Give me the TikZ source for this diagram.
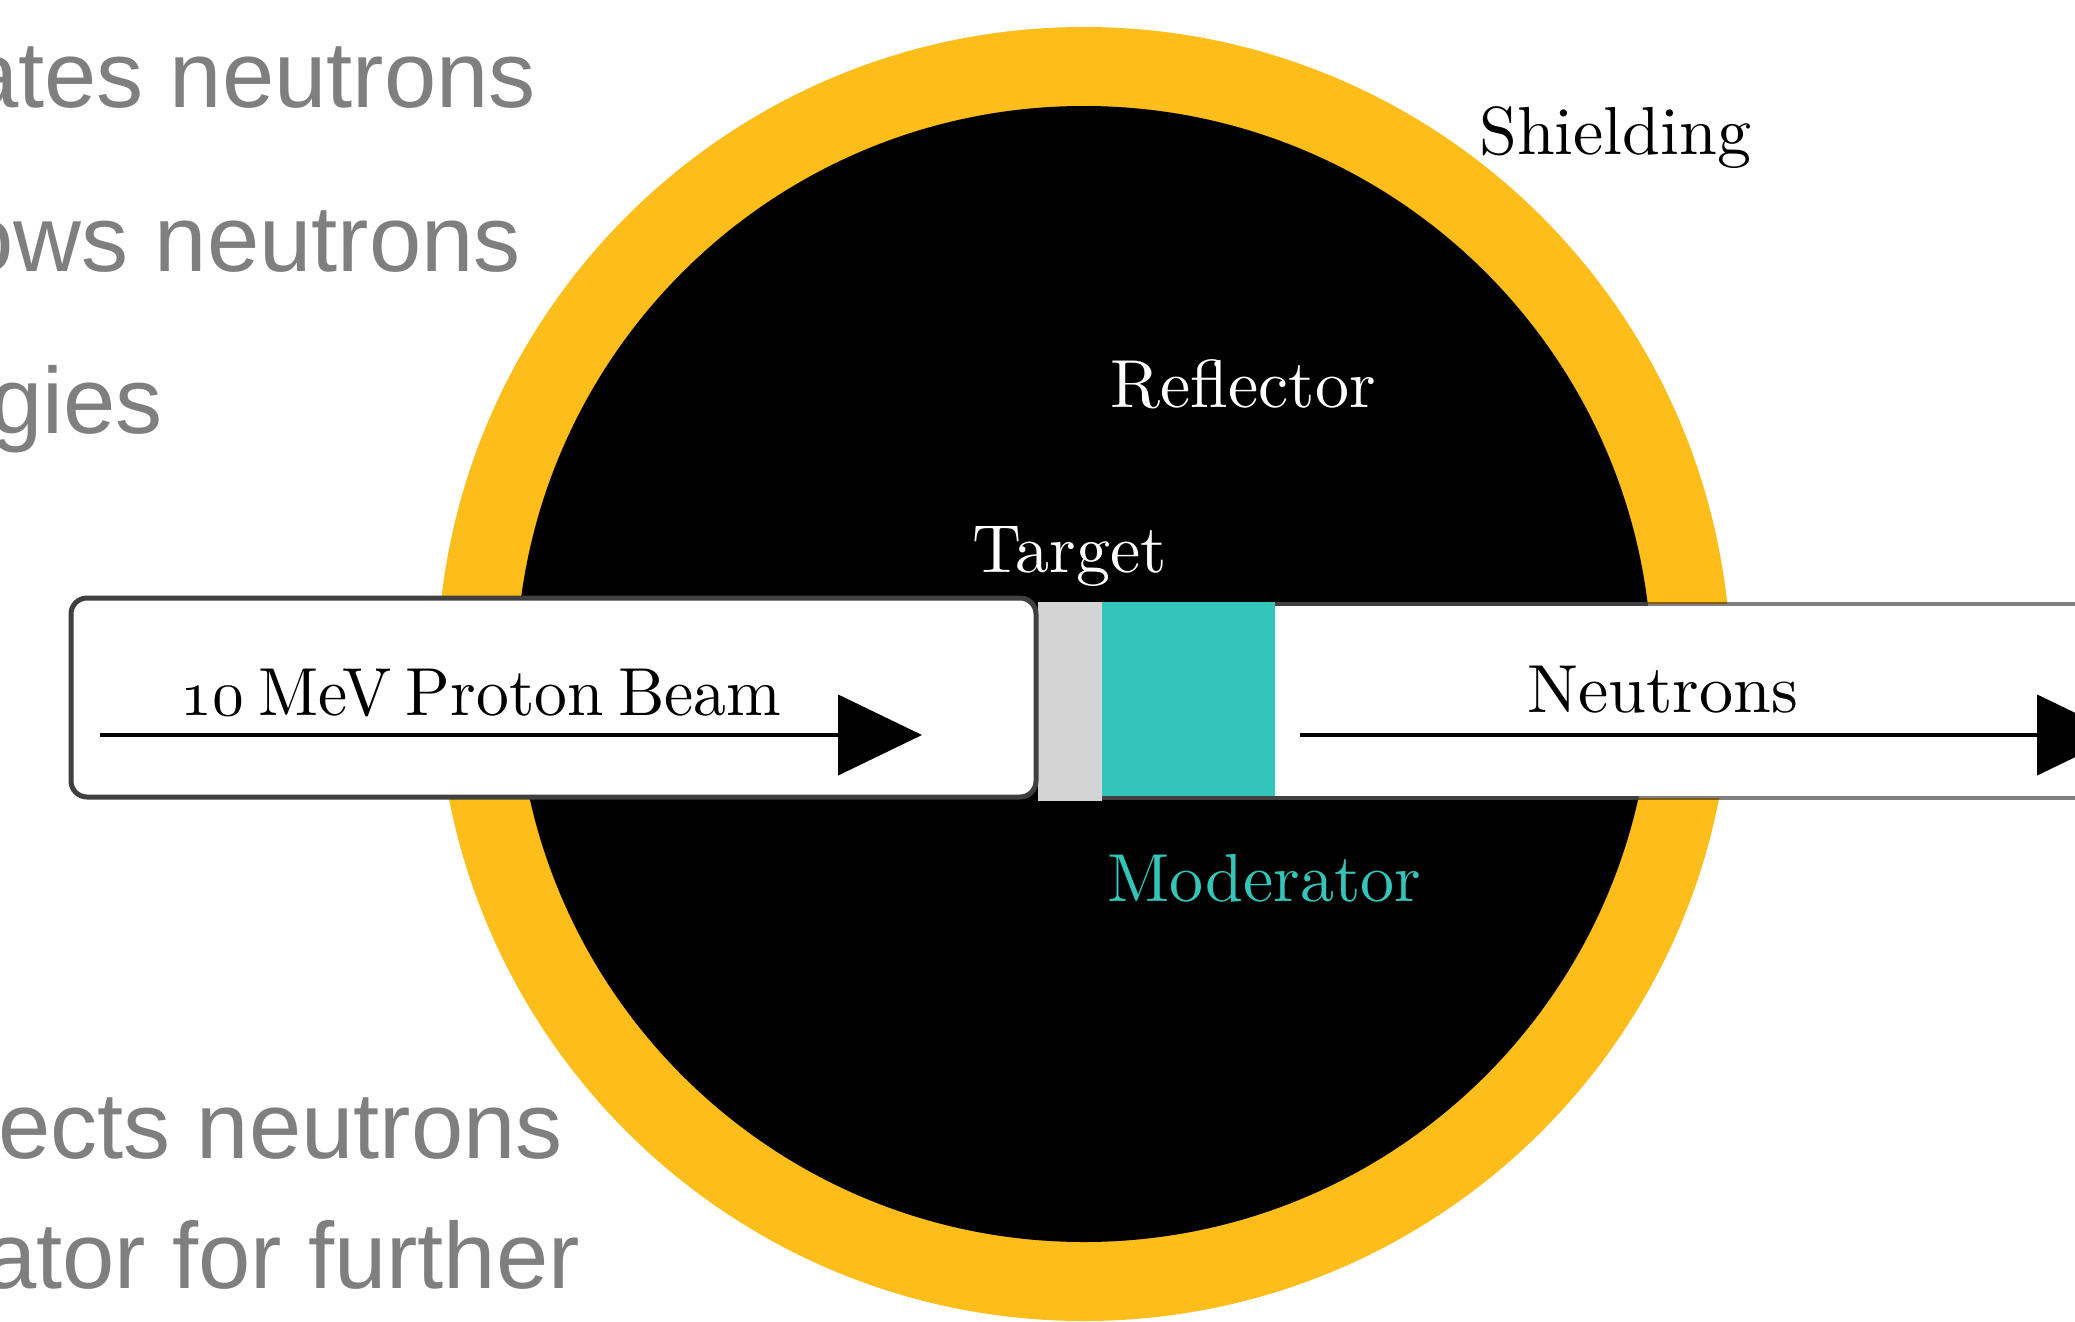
\documentclass[tikz,border=0pt]{standalone}
\usepackage{fontspec}
\usepackage{graphicx}
\usetikzlibrary{arrows.meta}
\newfontfamily\slidefont{Liberation Sans}
\newfontfamily\labelfont{lmroman10-regular}[Extension=.otf]
\definecolor{shieldyellow}{HTML}{FDBD1A}
\definecolor{modteal}{HTML}{33C5B9}
\definecolor{targetgray}{HTML}{D4D4D4}
\definecolor{boxedge}{HTML}{404040}
\definecolor{slidegray}{HTML}{7F7F7F}
% old-style figures taken from the math italic font, scaled up to label size
\newcommand{\osnum}[1]{\scalebox{6.6}{\fontsize{10}{12}\usefont{OML}{cmm}{m}{it}#1}}

\tikzset{
  labeltext/.style={inner sep=0pt, anchor=base west, font=\labelfont\fontsize{68}{80}\selectfont},
  slidetext/.style={inner sep=0pt, anchor=base east, text=slidegray,
    font=\slidefont\fontsize{94}{110}\selectfont},
  flowarrow/.style={line width=4.5pt, draw=black, -{Triangle[length=84pt,width=80pt]}},
  blockbox/.style={inner sep=0pt, outer sep=0pt, draw=none},
}

\begin{document}
\begin{tikzpicture}[x=1pt,y=-1pt]
\useasboundingbox (0,0) rectangle (2075,1322);
\clip (0,0) rectangle (2075,1322);
\fill[white] (0,0) rectangle (2075,1322);

% bullet text running in from the left
\node[slidetext] (s1) at (536,107) {ates neutrons};
\node[slidetext] (s2) at (521,271) {ows neutrons};
\node[slidetext] (s3) at (163,433) {gies};
\node[slidetext] (s4) at (563,1158) {ects neutrons};
\node[slidetext] (s5) at (580,1288) {ator for further};

% shielding ring and reflector core
\fill[shieldyellow] (1084,674) circle [radius=647pt];
\fill[black] (1084,674) circle [radius=568pt];

% neutron channel
\node[blockbox, fill=white, minimum width=1098pt, minimum height=194pt] (channel) at (1651,701) {};
\draw[line width=4.5pt, black, opacity=0.5] (1102,604) -- (2200,604) (1102,798) -- (2200,798);
\begin{scope}
  \clip (1084,674) circle [radius=568pt];
  \draw[line width=4.5pt, boxedge] (1102,604) -- (2200,604) (1102,798) -- (2200,798);
\end{scope}

% moderator and target
\node[blockbox, fill=modteal, minimum width=173pt, minimum height=194pt] (moderator) at (1188.5,699) {};
\node[blockbox, fill=targetgray, minimum width=64pt, minimum height=199pt] (target) at (1070,701.5) {};

% proton beam box
\node[draw=boxedge, line width=5pt, fill=white, rounded corners=16pt, inner sep=0pt,
      minimum width=965pt, minimum height=199pt] (beam) at (553.5,697.5) {};

% arrows
\coordinate (beamin) at (100,735);
\coordinate (beamout) at (922,735);
\draw[flowarrow] (beamin) -- (beamout);
\coordinate (neutin) at (1300,735);
\coordinate (neutout) at (2121,735);
\draw[flowarrow] (neutin) -- (neutout);

% labels
\node[labeltext] (lshield) at (1479,154) {Shielding};
\node[labeltext, text=white] (lrefl) at (1110,407) {Reflector};
\node[labeltext, text=white] (ltarget) at (972,572) {Target};
\node[labeltext, text=modteal] (lmod) at (1107,901) {Moderator};
\node[labeltext] (lbeam) at (180,715)
  {\scalebox{0.965}[1]{\spaceskip=0.22em\relax\osnum{10} MeV Proton Beam}};
\node[labeltext] (lneut) at (1527,712) {Neutrons};
\end{tikzpicture}
\end{document}
